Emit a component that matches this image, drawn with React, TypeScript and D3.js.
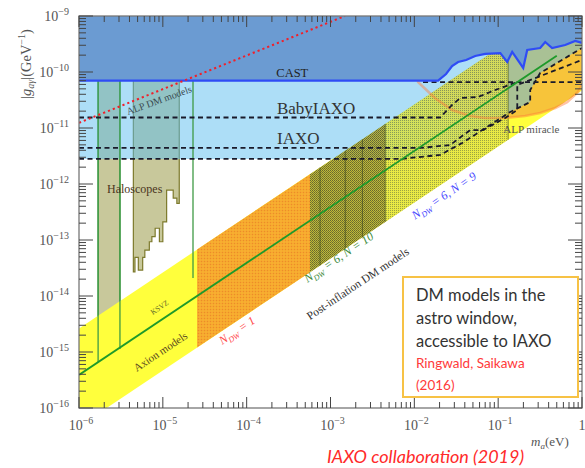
import React from "react";
import * as d3 from "d3";

type P = [number, number];

const WIDTH = 585;
const HEIGHT = 468;
const PLOT_LEFT = 79;
const PLOT_RIGHT = 582;
const PLOT_TOP = 16;
const PLOT_BOTTOM = 408;

// axes
const massDomain: P = [1e-6, 1];
const couplingDomain: P = [1e-16, 1e-9];
const xTickExps = [-6, -5, -4, -3, -2, -1, 0];
const yTickExps = [-9, -10, -11, -12, -13, -14, -15, -16];

// CAST helioscope limit (m_a, g)
const castCurve: P[] = [
  [1e-6, 7e-11], [0.0192, 7e-11], [0.0239, 9.2e-11], [0.0282, 1.28e-10],
  [0.0333, 1.51e-10], [0.0415, 1.64e-10], [0.0532, 1.93e-10], [0.07, 2.1e-10],
  [0.106, 2.18e-10], [0.128, 1.51e-10], [0.147, 2.28e-10], [0.199, 1.18e-10],
  [0.222, 2.47e-10], [0.317, 2.68e-10], [0.364, 3.43e-10], [0.44, 2.68e-10],
  [0.63, 3.03e-10], [0.83, 3.58e-10], [1.0, 3.3e-10],
];

// projected sensitivities
const babyIaxo: P[] = [
  [1e-6, 1.54e-11], [0.0203, 1.54e-11], [0.0282, 2.58e-11], [0.0352, 3.43e-11],
  [0.0577, 3.58e-11], [0.092, 4.77e-11], [0.169, 6.6e-11],
];
const iaxo: P[] = [
  [1e-6, 4.4e-12], [0.0117, 4.4e-12], [0.0267, 4.97e-12], [0.0463, 9.2e-12],
  [0.0662, 9.2e-12], [0.121, 1.51e-11], [0.169, 2.1e-11], [0.169, 5.86e-11],
  [1.0, 1.64e-10],
];
const iaxoPlus: P[] = [
  [1e-6, 2.8e-12], [0.0068, 2.8e-12], [0.0203, 3.3e-12], [0.0372, 5.4e-12],
  [0.139, 1.93e-11], [0.241, 2.91e-11], [0.241, 4.77e-11], [0.317, 9.6e-11],
  [1.0, 2.68e-10],
];
const dashedTop: P[] = [[0.0127, 6.6e-11], [1.0, 6.6e-11]];

// QCD axion band and models
const bandUpper: P[] = [[1e-6, 2.63e-15], [1, 2.63e-9]];
const bandLower: P[] = [[1e-6, 4.68e-17], [1, 4.68e-11]];
const ksvz: P[] = [[1e-6, 3.9e-16], [0.5, 1.95e-10]];
const alpDm: P[] = [[1e-6, 1.24e-11], [1.49e-3, 1e-9]];
const ndw1Range: P = [2.56e-5, 5.7e-4];
const ndw10Range: P = [5.7e-4, 4.5e-3];
const ndw9Range: P = [4.5e-3, 0.1315];
const ndw10Lines = [7.5e-4, 1.5e-3, 2.4e-3, 4.5e-3];

// haloscopes
const admxMass: P = [1.69e-6, 3.08e-6];
const admxFloor: P = [6.6e-16, 1.13e-15];
const haloscopeBins: [number, number, number][] = [
  [4.45e-6, 4.65e-6, 2.7e-14], [4.65e-6, 5.1e-6, 4.9e-14], [5.1e-6, 5.75e-6, 2.9e-14],
  [5.75e-6, 6.1e-6, 4.9e-14], [6.1e-6, 6.9e-6, 6.6e-14], [6.9e-6, 7.4e-6, 9.3e-14],
  [7.4e-6, 8.1e-6, 1.15e-13], [8.1e-6, 9.1e-6, 1.62e-13], [9.1e-6, 1.0e-5, 9.3e-14],
  [1.0e-5, 1.11e-5, 2.1e-13], [1.11e-5, 1.33e-5, 7.8e-13], [1.33e-5, 1.47e-5, 5.6e-13],
  [1.47e-5, 1.57e-5, 4.5e-13],
];
const greenLines: P[] = [[2.29e-5, 2.1e-14]];

// ALP miracle contour
const alpMiracle: P[] = [
  [8.9e-3, 5.6e-10], [0.0111, 6.6e-11], [0.0177, 3.4e-11], [0.0282, 2.1e-11],
  [0.0463, 1.64e-11], [0.07, 1.51e-11], [0.121, 1.51e-11], [0.21, 1.64e-11],
  [0.317, 1.85e-11], [0.48, 2.28e-11], [0.665, 2.9e-11], [0.9, 4.4e-11],
  [1.25, 1.09e-10], [1.44, 5.6e-10],
];

const x = d3.scaleLog().domain(massDomain).range([PLOT_LEFT, PLOT_RIGHT]);
const y = d3.scaleLog().domain(couplingDomain).range([PLOT_BOTTOM, PLOT_TOP]);
const line = d3.line<P>().x((d) => x(d[0])).y((d) => y(d[1]));

const edgeAt = (edge: P[], m: number) => {
  const [[m0, g0], [m1, g1]] = edge;
  const k = Math.log(g1 / g0) / Math.log(m1 / m0);
  return g0 * Math.pow(m / m0, k);
};
const bandPoly = (m0: number, m1: number): P[] => [
  [m0, edgeAt(bandUpper, m0)], [m1, edgeAt(bandUpper, m1)],
  [m1, edgeAt(bandLower, m1)], [m0, edgeAt(bandLower, m0)],
];
const closed = (pts: P[]) => line(pts) + "Z";

const SERIF = "'Liberation Serif', 'DejaVu Serif', serif";
const SANS = "Lato, 'Open Sans', sans-serif";
const BAND_ANGLE = -33.75;

function Sup({ base, exp, ...rest }: any) {
  return (
    <text {...rest}>
      {base}
      <tspan dy={-6} fontSize={10}>{exp}</tspan>
    </text>
  );
}

function Ndw({ m, g, color, rest }: { m: number; g: number; color: string; rest: string }) {
  return (
    <text transform={`translate(${x(m)},${y(g)}) rotate(${BAND_ANGLE})`} fill={color}
      fontFamily={SERIF} fontSize={12} fontStyle="italic">
      N<tspan fontSize={8} dy={3}>DW</tspan><tspan dy={-3}>{rest}</tspan>
    </text>
  );
}

export default function App() {
  const haloPts: P[] = [[haloscopeBins[0][0], 1e-9]];
  haloscopeBins.forEach(([m0, m1, g]) => { haloPts.push([m0, g]); haloPts.push([m1, g]); });
  haloPts.push([haloscopeBins[haloscopeBins.length - 1][1], 1e-9]);

  const admxPts: P[] = [
    [admxMass[0], 1e-9], [admxMass[1], 1e-9], [admxMass[1], admxFloor[1]], [admxMass[0], admxFloor[0]],
  ];

  const lightBlue: P[] = [...castCurve, ...[...iaxoPlus].reverse()];
  const castArea: P[] = [[1e-6, 1e-9], ...castCurve, [1, 1e-9]];

  const xMinor = x.ticks();
  const yMinor = y.ticks();
  const isMajor = (v: number) => Math.abs(Math.log10(v) - Math.round(Math.log10(v))) < 1e-6;

  const dashStyle = { fill: "none", stroke: "#1a1a2a", strokeWidth: 1.8, strokeDasharray: "5,3.5" };

  return (
    <svg width={WIDTH} height={HEIGHT} style={{ position: "absolute", left: 0, top: 0, background: "#fff" }}>
      <defs>
        <clipPath id="plot">
          <rect x={PLOT_LEFT} y={PLOT_TOP} width={PLOT_RIGHT - PLOT_LEFT} height={PLOT_BOTTOM - PLOT_TOP} />
        </clipPath>
        <clipPath id="band">
          <path d={closed(bandPoly(1e-6, 1))} />
        </clipPath>
        <pattern id="pOrange" width="3" height="3" patternUnits="userSpaceOnUse">
          <rect width="3" height="3" fill="#f6a82c" />
          <rect width="1" height="1" fill="#ec8a2c" />
          <rect x="1.5" y="1.5" width="1" height="1" fill="#fbc23e" />
        </pattern>
        <pattern id="pDark" width="2" height="2" patternUnits="userSpaceOnUse">
          <rect width="2" height="2" fill="#b8b03a" />
          <rect width="1" height="1" fill="#56582a" />
          <rect x="1" y="1" width="1" height="1" fill="#6a6a2c" />
        </pattern>
        <pattern id="pLight" width="2" height="2" patternUnits="userSpaceOnUse">
          <rect width="2" height="2" fill="#e2e246" />
          <rect width="1" height="1" fill="#7a8644" />
        </pattern>
      </defs>

      <g clipPath="url(#plot)">
        {/* haloscopes */}
        <path d={closed(admxPts)} fill="#c8c89b" stroke="#3f9a45" strokeWidth={1.3} />
        <path d={closed(haloPts)} fill="#c8c89b" stroke="#7d7a2c" strokeWidth={1.2} />

        {/* axion band */}
        <path d={closed(bandPoly(1e-6, 1))} fill="#ffff3c" />
        <path d={closed(alpMiracle)} fill="#f7c43a" clipPath="url(#band)" />

        {/* IAXO reach */}
        <path d={closed(lightBlue)} fill="#5bbef0" fillOpacity={0.5} />

        {/* post-inflation models */}
        <path d={closed(bandPoly(ndw1Range[0], ndw1Range[1]))} fill="url(#pOrange)" />
        <path d={closed(bandPoly(ndw10Range[0], ndw10Range[1]))} fill="url(#pDark)" opacity={0.9} />
        <path d={closed(bandPoly(ndw9Range[0], ndw9Range[1]))} fill="url(#pLight)" opacity={0.75} />
        {ndw10Lines.map((m) => (
          <line key={m} x1={x(m)} x2={x(m)} y1={y(edgeAt(bandUpper, m))} y2={y(edgeAt(bandLower, m))}
            stroke="#3e4a1e" strokeWidth={0.7} />
        ))}
        <line x1={x(ndw9Range[1])} x2={x(ndw9Range[1])} y1={y(edgeAt(bandUpper, ndw9Range[1]))}
          y2={y(edgeAt(bandLower, ndw9Range[1]))} stroke="#5a6a2a" strokeWidth={0.8} />

        {/* ALP miracle contour */}
        <path d={line(alpMiracle) ?? ""} fill="none" stroke="#ff7a3a" strokeOpacity={0.45} strokeWidth={2.6} />

        {/* haloscope vertical edges */}
        {[admxMass[0], admxMass[1]].map((m, i) => (
          <line key={m} x1={x(m)} x2={x(m)} y1={y(7e-11)} y2={y(admxFloor[i])} stroke="#3f9a45" strokeWidth={1.3} />
        ))}
        {greenLines.map(([m, g]) => (
          <line key={m} x1={x(m)} x2={x(m)} y1={y(7e-11)} y2={y(g)} stroke="#3f9a45" strokeWidth={1.3} />
        ))}

        {/* sensitivity curves */}
        <path d={line(babyIaxo) ?? ""} {...dashStyle} />
        <path d={line(iaxo) ?? ""} {...dashStyle} />
        <path d={line(iaxoPlus) ?? ""} {...dashStyle} />
        <path d={line(dashedTop) ?? ""} {...dashStyle} />

        {/* KSVZ */}
        <path d={line(ksvz) ?? ""} fill="none" stroke="#1e9a2a" strokeWidth={1.8} />

        {/* CAST */}
        <path d={closed(castArea)} fill="#6b9bd2" />
        <path d={line(castCurve) ?? ""} fill="none" stroke="#2f4cf5" strokeWidth={2.2} />

        {/* ALP DM */}
        <path d={line(alpDm) ?? ""} fill="none" stroke="#f0202a" strokeWidth={2} strokeDasharray="2.2,3" />
      </g>

      {/* region labels */}
      <text x={x(3.5e-4)} y={y(8.15e-11)} textAnchor="middle" fontFamily={SERIF} fontSize={12.5} fill="#222">CAST</text>
      <text x={x(2.3e-4)} y={y(1.78e-11)} fontFamily={SERIF} fontSize={17} fill="#333">BabyIAXO</text>
      <text x={x(2.3e-4)} y={y(5.2e-12)} fontFamily={SERIF} fontSize={17} fill="#333">IAXO</text>
      <text x={x(2.16e-6)} y={y(6.9e-13)} fontFamily={SERIF} fontSize={12} fill="#4a3520">Haloscopes</text>
      <text x={x(0.115)} y={y(8.1e-12)} fontFamily={SERIF} fontSize={11} fill="#555">ALP miracle</text>
      <text transform={`translate(${x(3.85e-6)},${y(1.7e-11)}) rotate(-20)`} fontFamily={SERIF} fontSize={10} fill="#3a4a50">ALP DM models</text>
      <text transform={`translate(${x(4.9e-6)},${y(4.4e-16)}) rotate(${BAND_ANGLE})`} fontFamily={SERIF} fontSize={11} fill="#5a4a20">Axion models</text>
      <text transform={`translate(${x(7.6e-6)},${y(4.6e-15)}) rotate(${BAND_ANGLE})`} fontFamily={SERIF} fontSize={7.5} fill="#5e6a28">KSVZ</text>
      <Ndw m={5.1e-5} g={1.33e-15} color="#ff4a4a" rest=" = 1" />
      <Ndw m={5.3e-4} g={1.7e-14} color="#3a8a3a" rest=" = 6, N = 10" />
      <Ndw m={0.0102} g={2.3e-13} color="#4444ff" rest=" = 6, N = 9" />
      <text transform={`translate(${x(5.7e-4)},${y(3.7e-15)}) rotate(${BAND_ANGLE})`} fontFamily={SERIF} fontSize={11.5} fill="#333">Post-inflation DM models</text>

      {/* frame and ticks */}
      <rect x={PLOT_LEFT} y={PLOT_TOP} width={PLOT_RIGHT - PLOT_LEFT} height={PLOT_BOTTOM - PLOT_TOP}
        fill="none" stroke="#777" strokeWidth={1.3} />
      {xMinor.map((v, i) => {
        const len = isMajor(v) ? 11 : 6;
        return (
          <g key={"x" + i} stroke="#444" strokeWidth={1}>
            <line x1={x(v)} x2={x(v)} y1={PLOT_BOTTOM} y2={PLOT_BOTTOM - len} />
            <line x1={x(v)} x2={x(v)} y1={PLOT_TOP} y2={PLOT_TOP + len} />
          </g>
        );
      })}
      {yMinor.map((v, i) => {
        const len = isMajor(v) ? 14 : 7;
        return (
          <g key={"y" + i} stroke="#444" strokeWidth={1}>
            <line x1={PLOT_LEFT} x2={PLOT_LEFT + len} y1={y(v)} y2={y(v)} />
            <line x1={PLOT_RIGHT} x2={PLOT_RIGHT - len} y1={y(v)} y2={y(v)} />
          </g>
        );
      })}

      {/* tick labels */}
      {yTickExps.map((e) => (
        <Sup key={e} x={69} y={y(Math.pow(10, e)) + 5} textAnchor="end" fontFamily={SERIF} fontSize={14}
          fill="#555" base="10" exp={"\u2212" + Math.abs(e)} />
      ))}
      {xTickExps.map((e) =>
        e === 0 ? (
          <text key={e} x={x(1)} y={430} textAnchor="middle" fontFamily={SERIF} fontSize={14} fill="#555">1</text>
        ) : (
          <Sup key={e} x={x(Math.pow(10, e)) + 2} y={430} textAnchor="middle" fontFamily={SERIF} fontSize={14}
            fill="#555" base="10" exp={"\u2212" + Math.abs(e)} />
        )
      )}

      {/* axis titles */}
      <text transform="translate(31,64) rotate(-90)" textAnchor="middle" fontFamily={SERIF} fontSize={14.5} fill="#555">
        |<tspan fontStyle="italic">g</tspan><tspan fontSize={10} dy={3} fontStyle="italic">a{"\u03b3"}</tspan>
        <tspan dy={-3}>|(GeV</tspan><tspan fontSize={10} dy={-6}>{"\u22121"}</tspan><tspan dy={6}>)</tspan>
      </text>
      <text x={531} y={446} fontFamily={SERIF} fontSize={13} fill="#555">
        <tspan fontStyle="italic">m</tspan><tspan fontSize={9} dy={3} fontStyle="italic">a</tspan>
        <tspan dy={-3}>(eV)</tspan>
      </text>

      {/* annotation box */}
      <rect x={403} y={277} width={175} height={120} fill="#fff" stroke="#f7c245" strokeWidth={2} />
      <g fontFamily={SANS} fontSize={16.5} fill="#333">
        <text x={416} y={301}>DM models in the</text>
        <text x={416} y={324}>astro window,</text>
        <text x={416} y={347}>accessible to IAXO</text>
      </g>
      <g fontFamily={SANS} fontSize={13.5} fill="#ff3a3a">
        <text x={416} y={368}>Ringwald, Saikawa</text>
        <text x={416} y={390}>(2016)</text>
      </g>
      <text x={327} y={463} fontFamily={SANS} fontSize={18} fontStyle="italic" fill="#ff2a2a">
        IAXO collaboration (2019)
      </text>
    </svg>
  );
}
